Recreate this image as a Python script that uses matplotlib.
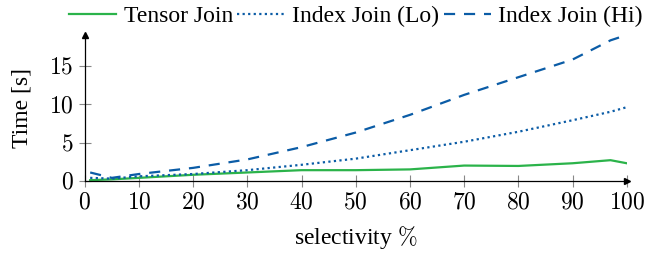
import matplotlib
matplotlib.use("Agg")
import matplotlib.pyplot as plt

plt.rcParams['font.family'] = ['Liberation Serif', 'DejaVu Serif']
plt.rcParams['mathtext.fontset'] = 'cm'

# selectivite en %
sel = [1, 5, 10, 20, 30, 40, 50, 60, 70, 80, 90, 97, 100]
tensor = [0.1, 0.2, 0.4, 0.8, 1.1, 1.4, 1.4, 1.5, 2.0, 1.95, 2.3, 2.7, 2.3]
index_lo = [0.4, 0.3, 0.6, 0.9, 1.4, 2.1, 2.9, 4.0, 5.1, 6.4, 7.9, 9.0, 9.6]
index_hi = [1.1, 0.4, 0.9, 1.7, 2.8, 4.4, 6.3, 8.6, 11.2, 13.5, 15.8, 18.3, 19.0]
xticks = [0, 10, 20, 30, 40, 50, 60, 70, 80, 90, 100]
yticks = [0, 5, 10, 15]

green = '#2bb34a'
blue = '#0b5ca6'

fig = plt.figure(figsize=(6.57, 2.57), dpi=100)
ax = fig.add_axes([0.129, 0.296, 0.825, 0.568])

ax.plot(sel, tensor, color=green, lw=1.6, label='Tensor Join')
ax.plot(sel, index_lo, color=blue, lw=1.6, ls=(0, (1, 1.5)), label='Index Join (Lo)')
ax.plot(sel, index_hi, color=blue, lw=1.6, ls=(0, (5, 4)), label='Index Join (Hi)')

ax.set_xlim(0, 100)
ax.set_ylim(0, 19)
ax.set_xticks(xticks)
ax.set_yticks(yticks)
ax.set_xticklabels(['$%d$' % t for t in xticks], fontsize=17)
ax.set_yticklabels(['$%d$' % t for t in yticks], fontsize=17)
ax.tick_params(direction='inout', length=8, width=0.8, color='#888888', pad=4)

for s in ['top', 'right']:
    ax.spines[s].set_visible(False)
for s in ['left', 'bottom']:
    ax.spines[s].set_linewidth(0.9)

# fleches des axes
ax.plot(1, 0, '>', color='black', ms=5, transform=ax.transAxes, clip_on=False)
ax.plot(0, 1, '^', color='black', ms=5, transform=ax.transAxes, clip_on=False)

ax.set_xlabel(r'selectivity $\mathit{\%}$', fontsize=17, labelpad=8)
ax.set_ylabel('Time [s]', fontsize=17, labelpad=12)

ax.legend(loc='center', bbox_to_anchor=(0.5, 1.126), ncol=3, frameon=False,
          fontsize=17, handlelength=2.0, handletextpad=0.3, columnspacing=0.2,
          borderaxespad=0.0)

plt.savefig('out.png', dpi=100)
